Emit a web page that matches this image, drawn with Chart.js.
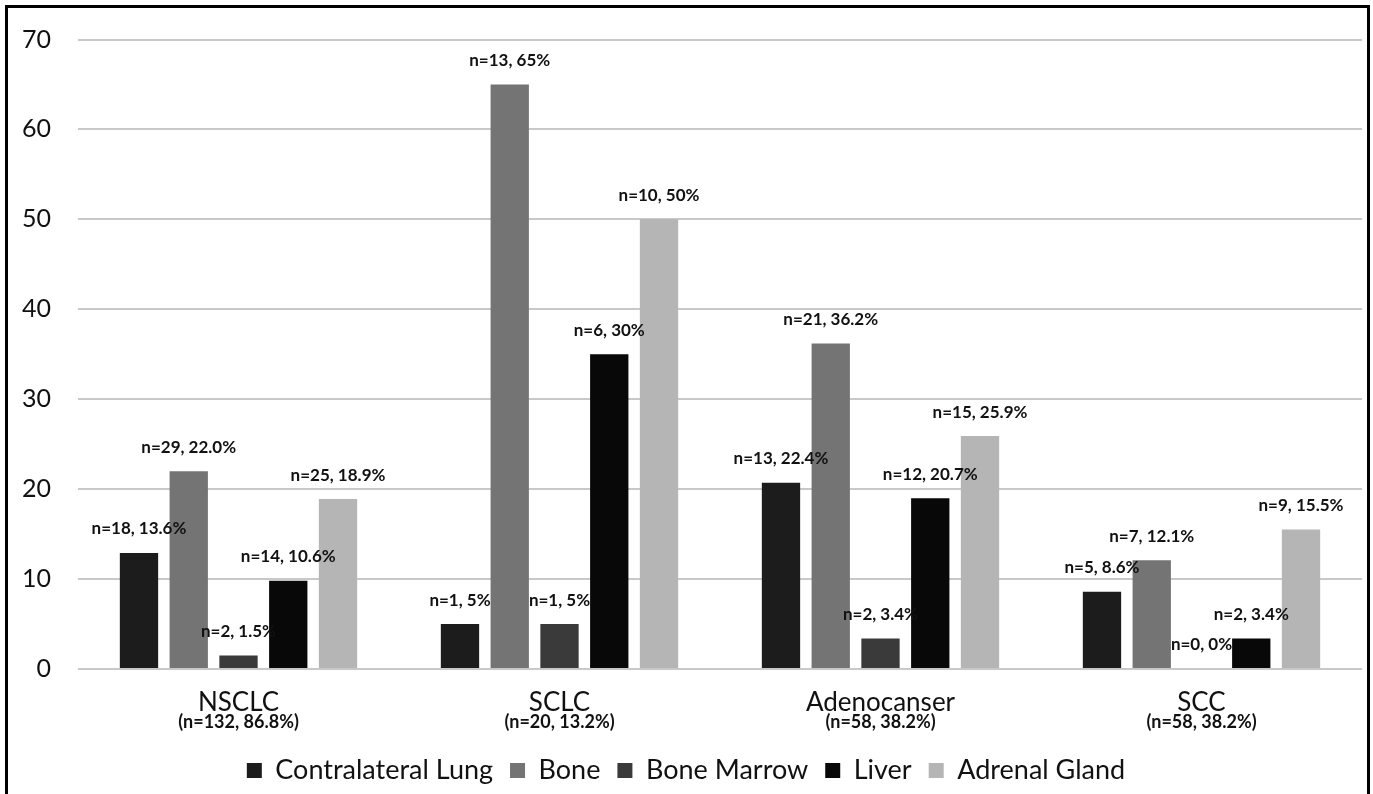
<!DOCTYPE html>
<html>
<head>
<meta charset="utf-8">
<script src="https://cdn.jsdelivr.net/npm/chart.js@4/dist/chart.umd.min.js"></script>
<style>
html,body{margin:0;padding:0;background:#fff;}
#wrap{position:relative;width:1373px;height:794px;}
canvas{display:block;}
</style>
</head>
<body>
<div id="wrap"><canvas id="c" width="1373" height="794"></canvas></div>
<script>
// ---- data ----
const categories = ['NSCLC', 'SCLC', 'Adenocanser', 'SCC'];
const categorySubLabels = ['(n=132, 86.8%)', '(n=20, 13.2%)', '(n=58, 38.2%)', '(n=58, 38.2%)'];
const seriesNames = ['Contralateral Lung', 'Bone', 'Bone Marrow', 'Liver', 'Adrenal Gland'];

const contralateralLung = [12.9, 5, 20.7, 8.6];
const bone = [22.0, 65, 36.2, 12.1];
const boneMarrow = [1.5, 5, 3.4, 0];
const liver = [9.8, 35, 19.0, 3.4];
const adrenalGland = [18.9, 50, 25.9, 15.5];

const contralateralLungLabels = ['n=18, 13.6%', 'n=1, 5%', 'n=13, 22.4%', 'n=5, 8.6%'];
const boneLabels = ['n=29, 22.0%', 'n=13, 65%', 'n=21, 36.2%', 'n=7, 12.1%'];
const boneMarrowLabels = ['n=2, 1.5%', 'n=1, 5%', 'n=2, 3.4%', 'n=0, 0%'];
const liverLabels = ['n=14, 10.6%', 'n=6, 30%', 'n=12, 20.7%', 'n=2, 3.4%'];
const adrenalGlandLabels = ['n=25, 18.9%', 'n=10, 50%', 'n=15, 25.9%', 'n=9, 15.5%'];

const yTicks = [0, 10, 20, 30, 40, 50, 60, 70];

// ---- styles ----
const colors = ['#1c1c1c', '#747474', '#3a3a3a', '#080808', '#b5b5b5'];
const FONT = 'Lato, "Open Sans", sans-serif';
const allValues = [contralateralLung, bone, boneMarrow, liver, adrenalGland];
const allLabels = [contralateralLungLabels, boneLabels, boneMarrowLabels, liverLabels, adrenalGlandLabels];

const datasets = seriesNames.map((name, i) => ({
  label: name,
  data: allValues[i],
  labelsText: allLabels[i],
  backgroundColor: colors[i],
  borderWidth: 0,
  categoryPercentage: 0.775,
  barPercentage: 0.77
}));

const barLabelPlugin = {
  id: 'barLabels',
  afterDatasetsDraw(chart) {
    const ctx = chart.ctx;
    ctx.save();
    ctx.font = 'bold 17px ' + FONT;
    ctx.fillStyle = '#111';
    ctx.textAlign = 'center';
    ctx.textBaseline = 'middle';
    chart.data.datasets.forEach((ds, di) => {
      const meta = chart.getDatasetMeta(di);
      meta.data.forEach((bar, j) => {
        ctx.fillText(ds.labelsText[j], bar.x, bar.y - 24);
      });
    });
    ctx.restore();
  }
};

const subLabelPlugin = {
  id: 'subLabels',
  afterDraw(chart) {
    const ctx = chart.ctx;
    const xs = chart.scales.x;
    ctx.save();
    ctx.font = 'bold 18px ' + FONT;
    ctx.fillStyle = '#111';
    ctx.textAlign = 'center';
    ctx.textBaseline = 'middle';
    categorySubLabels.forEach((t, i) => {
      ctx.fillText(t, xs.getPixelForValue(i), chart.chartArea.bottom + 53);
    });
    // frame
    ctx.strokeStyle = '#000';
    ctx.lineWidth = 3;
    ctx.beginPath();
    ctx.moveTo(6.5, 800);
    ctx.lineTo(6.5, 6.5);
    ctx.lineTo(1368.5, 6.5);
    ctx.lineTo(1368.5, 800);
    ctx.stroke();
    ctx.restore();
  }
};

new Chart(document.getElementById('c'), {
  type: 'bar',
  data: { labels: categories, datasets },
  options: {
    responsive: false,
    animation: false,
    devicePixelRatio: 1,
    layout: { padding: { top: 10, right: 11, left: 10, bottom: 0 } },
    plugins: {
      legend: {
        position: 'bottom',
        labels: {
          font: { family: FONT, size: 27 },
          color: '#111',
          boxWidth: 15,
          boxHeight: 15,
          padding: 17
        }
      },
      tooltip: { enabled: false }
    },
    scales: {
      x: {
        grid: { display: false, drawTicks: false },
        border: { display: false },
        ticks: { font: { family: FONT, size: 26 }, color: '#111', padding: 18 },
        afterFit(scale) { scale.height = 71; }
      },
      y: {
        min: 0,
        max: 70,
        afterBuildTicks(scale) { scale.ticks = yTicks.map(v => ({ value: v })); },
        grid: { color: '#c8c8c8', lineWidth: 2, drawTicks: false },
        border: { display: false },
        ticks: { font: { family: FONT, size: 25, lineHeight: 1 }, color: '#111', padding: 27 },
        afterFit(scale) { scale.width = 68; }
      }
    }
  },
  plugins: [barLabelPlugin, subLabelPlugin]
});
</script>
</body>
</html>
